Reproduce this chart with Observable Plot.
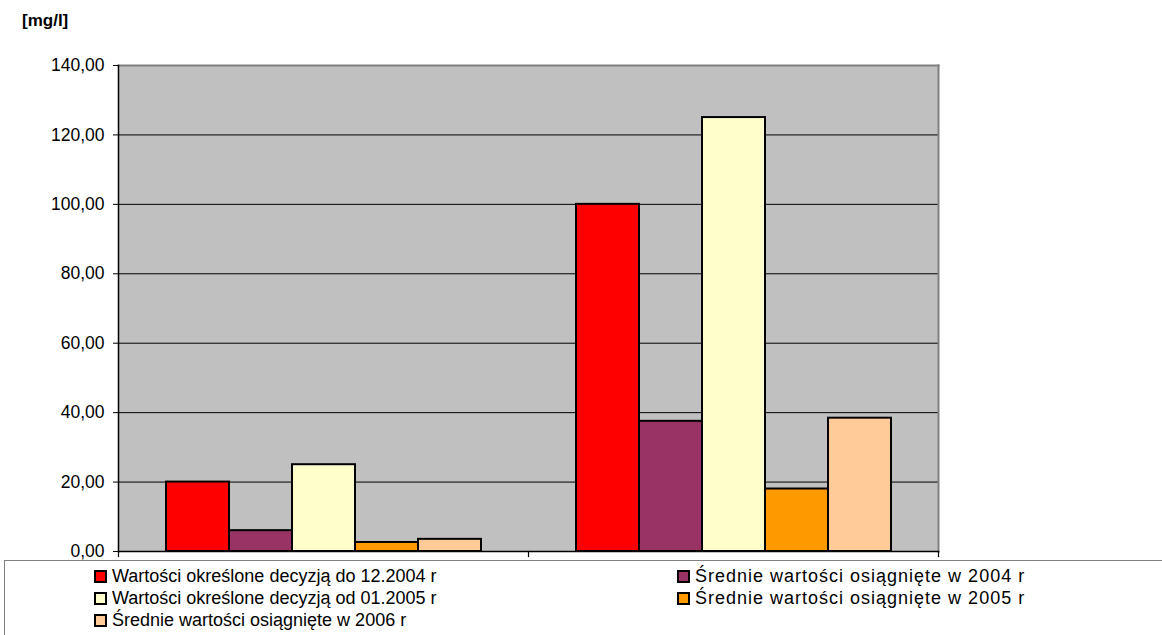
<!DOCTYPE html>
<html>
<head>
<meta charset="utf-8">
<script src="https://cdn.jsdelivr.net/npm/d3@7"></script>
<script src="https://cdn.jsdelivr.net/npm/@observablehq/plot@0.6"></script>
<style>
  html, body { margin: 0; padding: 0; background: #fff; }
  #wrap { position: relative; width: 1162px; height: 635px; overflow: hidden; font-family: "Liberation Sans", Arial, sans-serif; }
  #unit { position: absolute; left: 22px; top: 11px; font-weight: bold; font-size: 17px; }
  #legend { position: absolute; left: 4px; top: 560px; width: 1300px; height: 200px; border: 1.5px solid #808080; box-sizing: border-box; }
  .item { position: absolute; display: flex; align-items: center; font-size: 18px; line-height: 22px; white-space: nowrap; }
  .item.right { letter-spacing: 1px; }
  .sw { width: 13px; height: 13px; border: 2px solid #000; box-sizing: border-box; margin-right: 5px; }
</style>
</head>
<body>
<div id="wrap">
  <div id="unit">[mg/l]</div>
  <div id="legend"></div>
</div>
<script>
// Parameter groups and the five compared series
const groups = ["BZT5", "ChZT"];
const series = [
  "Wartości określone decyzją do 12.2004 r",
  "Średnie wartości osiągnięte w 2004 r",
  "Wartości określone decyzją od 01.2005 r",
  "Średnie wartości osiągnięte w 2005 r",
  "Średnie wartości osiągnięte w 2006 r"
];
const colors = ["#FF0000", "#993366", "#FFFFCC", "#FF9900", "#FFCC99"];

// Values [mg/l] per group, in series order
const bzt5 = [20, 6, 25, 2.6, 3.5];
const chzt = [100, 37.5, 125, 18, 38.4];

const yTicks = [0, 20, 40, 60, 80, 100, 120, 140];

const data = [];
[bzt5, chzt].forEach((vals, gi) => {
  vals.forEach((v, si) => data.push({group: groups[gi], series: series[si], value: v}));
});

const fmt = d => d.toFixed(2).replace(".", ",");

const chart = Plot.plot({
  width: 1162,
  height: 635,
  marginTop: 65,
  marginBottom: 84,
  marginLeft: 117,
  marginRight: 224,
  style: {fontFamily: "'Liberation Sans', Arial, sans-serif", fontSize: "17.5px", color: "#000", background: "transparent"},
  fx: {domain: groups, padding: 0, axis: null},
  x: {type: "band", domain: series, paddingInner: 0, paddingOuter: 0.75, axis: null},
  y: {domain: [0, 140], axis: null},
  color: {domain: series, range: colors},
  marks: [
    // plot area background spanning both groups
    Plot.frame({facet: "super", fill: "#C0C0C0"}),
    Plot.ruleY(yTicks.slice(1, -1), {stroke: "#000", strokeWidth: 1}),
    Plot.barY(data, {fx: "group", x: "series", y: "value", fill: "series", stroke: "#000", strokeWidth: 2}),
    // outer border of the plot area: grey top and right, black axes left and bottom
    Plot.frame({facet: "super", anchor: "top", stroke: "#808080", strokeWidth: 2}),
    Plot.frame({facet: "super", anchor: "right", stroke: "#808080", strokeWidth: 2}),
    Plot.frame({facet: "super", anchor: "left", stroke: "#000", strokeWidth: 1.5}),
    Plot.frame({facet: "super", anchor: "bottom", stroke: "#000", strokeWidth: 1.5}),
    // category boundary ticks below the axis
    Plot.frame({anchor: "left", stroke: "#000", strokeWidth: 1.2, insetTop: 486, insetBottom: -5}),
    Plot.frame({facet: "super", anchor: "right", stroke: "#000", strokeWidth: 1.2, insetTop: 486, insetBottom: -5}),
    Plot.axisY({ticks: yTicks, tickSize: 5, tickPadding: 9, tickFormat: fmt, label: null})
  ]
});
chart.style.position = "absolute";
chart.style.left = "0px";
chart.style.top = "0px";
document.getElementById("wrap").insertBefore(chart, document.getElementById("unit"));

// Legend: two columns, row-major order
const legend = document.getElementById("legend");
series.forEach((s, i) => {
  const col = i % 2, row = Math.floor(i / 2);
  const item = document.createElement("div");
  item.className = col ? "item right" : "item";
  item.style.left = (col ? 672 : 89) + "px";
  item.style.top = (4 + row * 22) + "px";
  const sw = document.createElement("span");
  sw.className = "sw";
  sw.style.background = colors[i];
  item.appendChild(sw);
  item.appendChild(document.createTextNode(s));
  legend.appendChild(item);
});
</script>
</body>
</html>
